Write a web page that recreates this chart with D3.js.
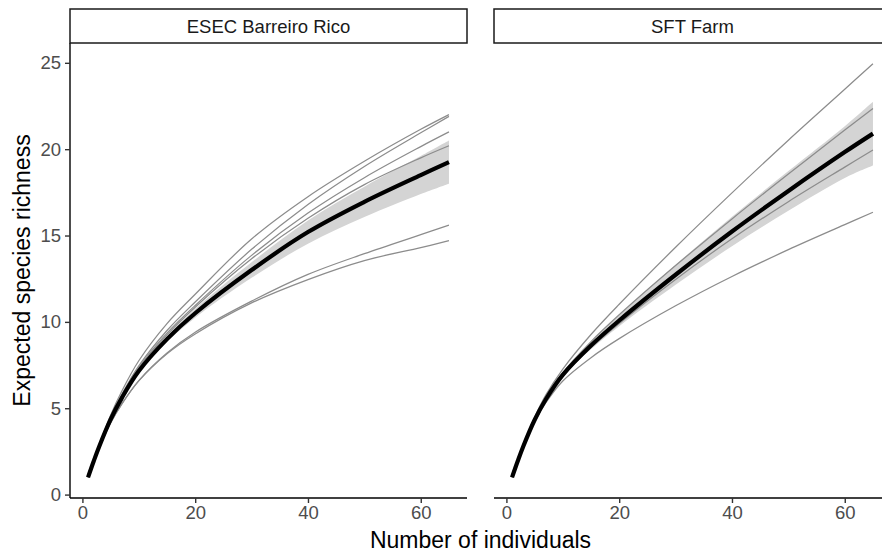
<!DOCTYPE html>
<html>
<head>
<meta charset="utf-8">
<script src="https://cdn.jsdelivr.net/npm/d3@7"></script>
<style>
  html, body { margin: 0; padding: 0; background: #ffffff; }
  svg { display: block; }
  text { font-family: "Liberation Sans", Arial, Helvetica, sans-serif; }
</style>
</head>
<body>
<svg id="chart" width="882" height="554"></svg>
<script>
// ---------------- data ----------------
const sites = ["ESEC Barreiro Rico", "SFT Farm"];
const sampleSizes = [1, 2, 3, 5, 7, 10, 15, 20, 30, 40, 50, 60, 65];

const esecMean  = [1, 1.93, 2.8, 4.35, 5.6, 7.15, 9.0, 10.5, 13.0, 15.2, 16.95, 18.5, 19.25];
const esecLower = [1, 1.93, 2.79, 4.32, 5.55, 7.06, 8.83, 10.24, 12.55, 14.53, 16.07, 17.4, 18.0];
const esecUpper = [1, 1.93, 2.81, 4.38, 5.65, 7.24, 9.17, 10.76, 13.45, 15.87, 17.83, 19.6, 20.5];
const esecPlots = [
  [1, 1.95, 2.88, 4.6, 6.0, 7.75, 9.9, 11.6, 14.8, 17.25, 19.3, 21.15, 22.0],
  [1, 1.94, 2.85, 4.5, 5.8, 7.45, 9.5, 11.15, 14.2, 16.8, 19.0, 20.95, 21.9],
  [1, 1.94, 2.84, 4.45, 5.75, 7.35, 9.35, 10.95, 13.85, 16.3, 18.35, 20.15, 21.0],
  [1, 1.93, 2.83, 4.4, 5.7, 7.3, 9.25, 10.85, 13.65, 16.0, 17.95, 19.5, 20.2],
  [1, 1.9, 2.74, 4.15, 5.25, 6.6, 8.2, 9.4, 11.2, 12.75, 13.95, 15.05, 15.6],
  [1, 1.9, 2.74, 4.15, 5.25, 6.58, 8.15, 9.3, 11.1, 12.45, 13.55, 14.3, 14.7]
];

const sftMean  = [1, 1.93, 2.8, 4.32, 5.52, 6.93, 8.63, 10.08, 12.73, 15.23, 17.58, 19.83, 20.9];
const sftLower = [1, 1.93, 2.79, 4.29, 5.46, 6.82, 8.41, 9.75, 12.15, 14.38, 16.43, 18.33, 19.05];
const sftUpper = [1, 1.93, 2.81, 4.35, 5.58, 7.04, 8.85, 10.41, 13.31, 16.08, 18.73, 21.33, 22.75];
const sftPlots = [
  [1, 1.95, 2.87, 4.47, 5.77, 7.27, 9.27, 11.02, 14.32, 17.47, 20.52, 23.47, 24.95],
  [1, 1.94, 2.82, 4.38, 5.62, 7.06, 8.86, 10.41, 13.26, 15.96, 18.56, 21.11, 22.36],
  [1, 1.93, 2.8, 4.3, 5.48, 6.86, 8.51, 9.91, 12.46, 14.81, 16.96, 18.96, 19.95],
  [1, 1.92, 2.78, 4.22, 5.32, 6.58, 7.93, 9.03, 10.93, 12.63, 14.18, 15.63, 16.35]
];

const xTicks = [0, 20, 40, 60];
const yTicks = [0, 5, 10, 15, 20, 25];
const xTitle = "Number of individuals";
const yTitle = "Expected species richness";

// ---------------- layout ----------------
const svg = d3.select("#chart");
const panelW = 397;
const panelTop = 43, panelBottom = 498;
const panelLefts = [70, 494];
const stripTop = 9;
const fontFam = '"Liberation Sans", Arial, sans-serif';

const panels = [
  { name: sites[0], mean: esecMean, lower: esecLower, upper: esecUpper, plots: esecPlots },
  { name: sites[1], mean: sftMean, lower: sftLower, upper: sftUpper, plots: sftPlots }
];

// ggplot-like 5% expansion of data range
const allY = panels.flatMap(p => [...p.mean, ...p.lower, ...p.upper, ...p.plots.flat()]);
const [xMin, xMax] = d3.extent(sampleSizes);
const [yMin, yMax] = d3.extent(allY);
const xPad = (xMax - xMin) * 0.05, yPad = (yMax - yMin) * 0.05;

const x = d3.scaleLinear().domain([xMin - xPad, xMax + xPad]).range([0, panelW]);
const y = d3.scaleLinear().domain([yMin - yPad, yMax + yPad]).range([panelBottom - panelTop, 0]);

const curve = d3.curveCatmullRom.alpha(0.5);

const line = d3.line()
  .x((d, i) => x(sampleSizes[i]))
  .y(d => y(d))
  .curve(curve);

const area = d3.area()
  .x((d, i) => x(sampleSizes[i]))
  .y0(d => y(d[0]))
  .y1(d => y(d[1]))
  .curve(curve);

panels.forEach((p, pi) => {
  const g = svg.append("g").attr("transform", `translate(${panelLefts[pi]},${panelTop})`);

  // ribbon
  g.append("path")
    .datum(p.lower.map((v, i) => [v, p.upper[i]]))
    .attr("d", area)
    .attr("fill", "#d4d4d4")
    .attr("stroke", "none");

  // individual plot curves
  p.plots.forEach(vals => {
    g.append("path")
      .datum(vals)
      .attr("d", line)
      .attr("fill", "none")
      .attr("stroke", "#8c8c8c")
      .attr("stroke-width", 1.25);
  });

  // mean curve
  g.append("path")
    .datum(p.mean)
    .attr("d", line)
    .attr("fill", "none")
    .attr("stroke", "#000000")
    .attr("stroke-width", 4.2);

  // x axis
  const xa = g.append("g")
    .attr("transform", `translate(0,${panelBottom - panelTop})`)
    .call(d3.axisBottom(x).tickValues(xTicks).tickSize(5).tickPadding(3).tickFormat(d3.format("d")));
  xa.select(".domain").attr("d", `M0,0H${panelW}`).attr("stroke", "#000").attr("stroke-width", 1.4);
  xa.selectAll(".tick line").attr("stroke", "#333333").attr("stroke-width", 1.4);
  xa.selectAll(".tick text").attr("fill", "#4d4d4d").style("font-size", "18.5px")
    .style("font-family", fontFam);

  // y axis only on first panel
  if (pi === 0) {
    const ya = g.append("g")
      .call(d3.axisLeft(y).tickValues(yTicks).tickSize(5).tickPadding(4).tickFormat(d3.format("d")));
    ya.select(".domain").attr("d", `M0,0V${panelBottom - panelTop}`).attr("stroke", "#000").attr("stroke-width", 1.4);
    ya.selectAll(".tick line").attr("stroke", "#333333").attr("stroke-width", 1.4);
    ya.selectAll(".tick text").attr("fill", "#4d4d4d").style("font-size", "18.5px")
      .style("font-family", fontFam);
  }

  // strip
  const s = svg.append("g").attr("transform", `translate(${panelLefts[pi]},${stripTop})`);
  s.append("rect")
    .attr("x", 0).attr("y", 0)
    .attr("width", panelW).attr("height", panelTop - stripTop)
    .attr("fill", "#ffffff").attr("stroke", "#1a1a1a").attr("stroke-width", 1.5);
  s.append("text")
    .attr("x", panelW / 2).attr("y", (panelTop - stripTop) / 2)
    .attr("text-anchor", "middle").attr("dominant-baseline", "central")
    .attr("fill", "#1a1a1a").style("font-size", "18.5px")
    .text(p.name);
});

// axis titles
svg.append("text")
  .attr("x", (panelLefts[0] + panelLefts[1] + panelW) / 2)
  .attr("y", 548)
  .attr("text-anchor", "middle")
  .attr("fill", "#000")
  .style("font-size", "23px")
  .text(xTitle);

svg.append("text")
  .attr("transform", `translate(30,${(panelTop + panelBottom) / 2}) rotate(-90)`)
  .attr("text-anchor", "middle")
  .attr("fill", "#000")
  .style("font-size", "23px")
  .text(yTitle);
</script>
</body>
</html>
